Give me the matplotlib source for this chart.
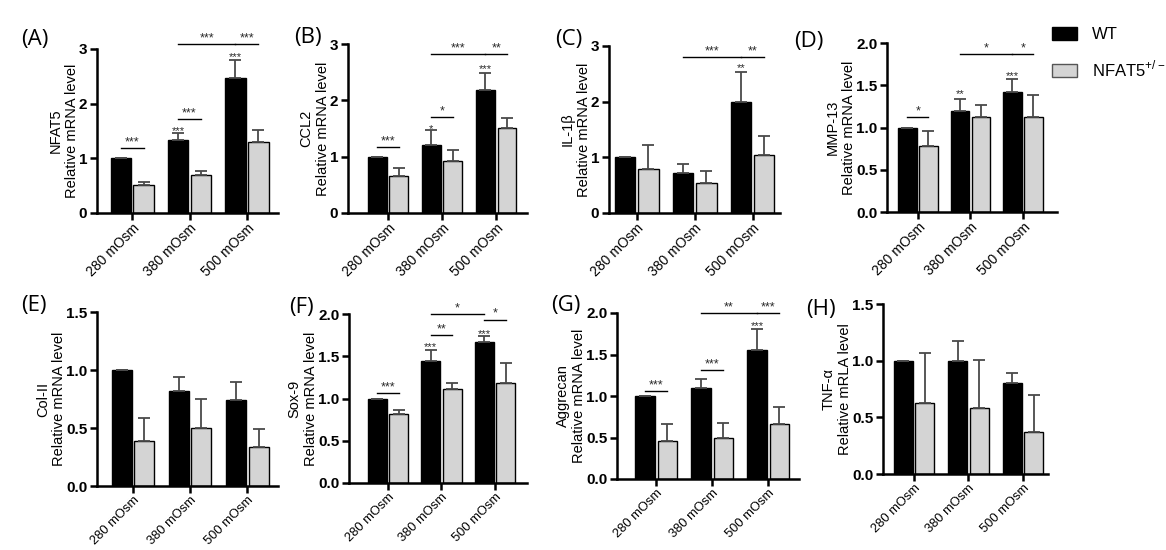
import matplotlib
matplotlib.use("Agg")
import matplotlib.pyplot as plt
from matplotlib.patches import Patch
import numpy as np

plt.rcParams['font.family'] = ['Liberation Sans', 'DejaVu Sans']

groups = ['280 mOsm', '380 mOsm', '500 mOsm']
series = ['WT', 'NFAT5$^{\\mathregular{+/-}}$']

genes = ['NFAT5', 'CCL2', 'IL-1\u03b2', 'MMP-13', 'Col-II', 'Sox-9', 'Aggrecan', 'TNF-\u03b1']
ylabels = ['Relative mRNA level'] * 7 + ['Relative mRLA level']
letters = ['(A)', '(B)', '(C)', '(D)', '(E)', '(F)', '(G)', '(H)']

wt_mean = [[1.0, 1.33, 2.47], [1.0, 1.21, 2.18], [1.0, 0.72, 1.99], [1.0, 1.19, 1.42],
           [1.0, 0.82, 0.74], [1.0, 1.44, 1.67], [1.0, 1.10, 1.55], [1.0, 1.00, 0.80]]
wt_err = [[0.0, 0.13, 0.32], [0.0, 0.26, 0.30], [0.0, 0.16, 0.55], [0.0, 0.15, 0.15],
          [0.0, 0.12, 0.16], [0.0, 0.13, 0.07], [0.0, 0.10, 0.26], [0.0, 0.17, 0.09]]
ko_mean = [[0.52, 0.69, 1.29], [0.66, 0.93, 1.51], [0.79, 0.54, 1.05], [0.78, 1.12, 1.12],
           [0.39, 0.50, 0.34], [0.82, 1.11, 1.18], [0.46, 0.50, 0.66], [0.63, 0.58, 0.37]]
ko_err = [[0.05, 0.08, 0.23], [0.13, 0.18, 0.18], [0.44, 0.22, 0.33], [0.18, 0.15, 0.27],
          [0.20, 0.25, 0.15], [0.04, 0.07, 0.24], [0.20, 0.18, 0.21], [0.44, 0.43, 0.33]]

ymax = [3, 3, 3, 2, 1.5, 2, 2, 1.5]
yticks = [[0, 1, 2, 3]] * 3 + [[0, 0.5, 1.0, 1.5, 2.0], [0, 0.5, 1.0, 1.5],
          [0, 0.5, 1.0, 1.5, 2.0], [0, 0.5, 1.0, 1.5, 2.0], [0, 0.5, 1.0, 1.5]]
yfmt = ['%d'] * 3 + ['%.1f'] * 5

# significance brackets: (group, series) -> (group, series), height, stars
brackets = [
    [((0, 0), (0, 1), 1.19, '***'), ((1, 0), (1, 1), 1.72, '***'),
     ((1, 0), (2, 0), 3.09, '***'), ((2, 0), (2, 1), 3.09, '***')],
    [((0, 0), (0, 1), 1.17, '***'), ((1, 0), (1, 1), 1.70, '*'),
     ((1, 0), (2, 0), 2.82, '***'), ((2, 0), (2, 1), 2.82, '**')],
    [((1, 0), (2, 0), 2.80, '***'), ((2, 0), (2, 1), 2.80, '**')],
    [((0, 0), (0, 1), 1.12, '*'), ((1, 0), (2, 0), 1.87, '*'), ((2, 0), (2, 1), 1.87, '*')],
    [],
    [((0, 0), (0, 1), 1.06, '***'), ((1, 0), (1, 1), 1.75, '**'),
     ((1, 0), (2, 0), 2.00, '*'), ((2, 0), (2, 1), 1.93, '*')],
    [((0, 0), (0, 1), 1.06, '***'), ((1, 0), (1, 1), 1.31, '***'),
     ((1, 0), (2, 0), 2.00, '**'), ((2, 0), (2, 1), 2.00, '***')],
    [],
]
# stars above WT bars vs 280 mOsm: group, height, stars
bar_stars = [
    [(1, 1.49, '***'), (2, 2.86, '***')],
    [(1, 1.49, '*'), (2, 2.55, '***')],
    [(2, 2.60, '**')],
    [(1, 1.40, '**'), (2, 1.61, '***')],
    [],
    [(1, 1.61, '***'), (2, 1.76, '***')],
    [(2, 1.84, '***')],
    [],
]

# layout in pixels: left, top, right, bottom of each axes, and x limits
W, H = 1166, 550
boxes = [(97, 49, 278, 213), (348, 44, 527, 213), (609, 46, 780, 213), (887, 43, 1057, 212),
         (97, 312, 278, 486), (349, 314, 527, 483), (617, 313, 799, 479), (883, 304, 1048, 474)]
xlims = [(-0.61, 2.54), (-0.74, 2.57), (-0.48, 2.47), (-0.59, 2.65),
         (-0.63, 2.54), (-0.73, 2.60), (-0.70, 2.55), (-0.57, 2.46)]
letter_pos = [(21, 40), (294, 38), (555, 40), (794, 42), (21, 305), (289, 308), (551, 305), (806, 310)]

fig = plt.figure(figsize=(W / 100, H / 100), dpi=100)
off = 0.2
bw = 0.35
x = np.arange(len(groups))
star_col = '#2a2a2a'

for i in range(8):
    l, t, r, b = boxes[i]
    ax = fig.add_axes([l / W, 1 - b / H, (r - l) / W, (b - t) / H])
    ax.bar(x - off, wt_mean[i], bw, color='black', edgecolor='black', linewidth=1)
    ax.bar(x + off, ko_mean[i], bw, color='#d4d4d4', edgecolor='black', linewidth=1)
    ax.errorbar(x - off, wt_mean[i], yerr=[np.zeros(3), wt_err[i]], fmt='none',
                ecolor='#4a4a4a', elinewidth=1.3, capsize=4.5, capthick=1.3)
    ax.errorbar(x + off, ko_mean[i], yerr=[np.zeros(3), ko_err[i]], fmt='none',
                ecolor='#4a4a4a', elinewidth=1.3, capsize=4.5, capthick=1.3)

    for (g1, s1), (g2, s2), yl, txt in brackets[i]:
        x1 = g1 + (off if s1 else -off)
        x2 = g2 + (off if s2 else -off)
        ax.plot([x1, x2], [yl, yl], color='black', lw=1, clip_on=False)
        ax.text((x1 + x2) / 2, yl, txt, ha='center', va='bottom', fontsize=9,
                color=star_col, clip_on=False)
    for g, ys, txt in bar_stars[i]:
        ax.text(g - off, ys, txt, ha='center', va='center', fontsize=8,
                color=star_col, clip_on=False)

    ax.set_xlim(*xlims[i])
    ax.set_ylim(0, ymax[i])
    ax.set_yticks(yticks[i])
    ax.set_yticklabels([yfmt[i] % v for v in yticks[i]], fontweight='bold', fontsize=11)
    ax.set_xticks(x)
    ax.set_xticklabels(groups, rotation=45, ha='right', rotation_mode='anchor',
                       fontsize=10 if i < 4 else 9.3)
    ax.set_ylabel(genes[i] + '\n' + ylabels[i], fontsize=10.5, linespacing=1.2, labelpad=0)
    for side in ['top', 'right']:
        ax.spines[side].set_visible(False)
    for side in ['left', 'bottom']:
        ax.spines[side].set_linewidth(1.8)
    ax.tick_params(axis='both', width=1.8, length=5, pad=2)
    ax.tick_params(axis='x', pad=1)

    lx, ly = letter_pos[i]
    fig.text(lx / W, 1 - ly / H, letters[i], fontsize=16, va='center', ha='left',
             family=['Open Sans', 'DejaVu Sans'])

handles = [Patch(facecolor='black', edgecolor='black'),
           Patch(facecolor='#d4d4d4', edgecolor='#555555')]
fig.legend(handles, series, loc='upper left', bbox_to_anchor=(1052 / W, 1 - 27 / H),
           frameon=False, fontsize=12, handlelength=1.5, handleheight=0.8,
           labelspacing=1.0, handletextpad=0.9, borderpad=0, borderaxespad=0)

fig.savefig('out.png', dpi=100)
